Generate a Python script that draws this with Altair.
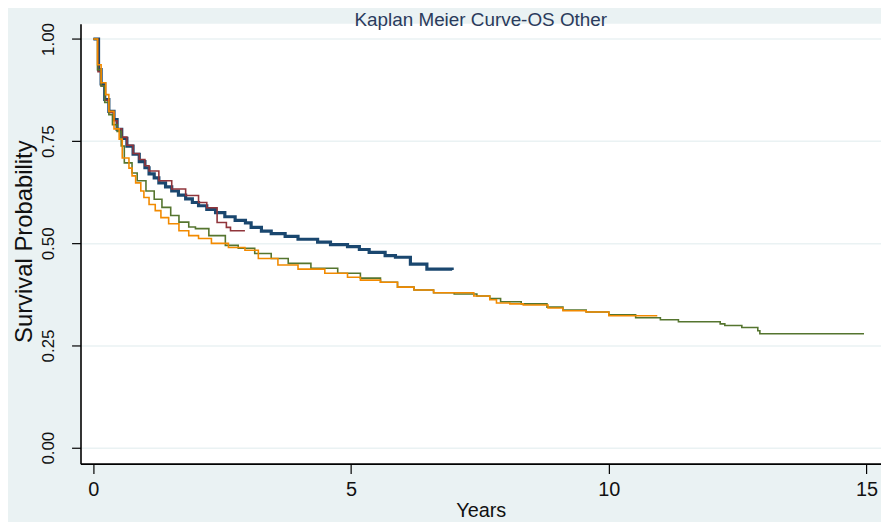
import altair as alt
import pandas as pd

# ---- data (years, survival probability) ----
groups = ["Group 1", "Group 2", "Group 3", "Group 4"]
colors = ["#1a476f", "#90353b", "#55752f", "#f28a00"]
widths = [3.2, 1.6, 1.6, 1.6]

g1_t = [0, 0.10, 0.15, 0.22, 0.30, 0.40, 0.46, 0.55, 0.65, 0.77,
        0.89, 1.0, 1.08, 1.18, 1.27, 1.4, 1.52, 1.65, 1.79, 1.92,
        2.04, 2.2, 2.37, 2.55, 2.75, 2.95, 3.06, 3.26, 3.45, 3.72,
        3.97, 4.35, 4.6, 4.93, 5.16, 5.35, 5.66, 5.86, 6.15, 6.47, 6.96]
g1_s = [1.0, 0.925, 0.89, 0.852, 0.823, 0.803, 0.779, 0.757, 0.738, 0.718,
        0.70, 0.685, 0.67, 0.66, 0.648, 0.638, 0.628, 0.618, 0.609, 0.60,
        0.592, 0.583, 0.575, 0.565, 0.556, 0.55, 0.539, 0.53, 0.524, 0.517,
        0.51, 0.503, 0.497, 0.492, 0.485, 0.478, 0.47, 0.466, 0.449, 0.437, 0.435]

g2_t = [0, 0.09, 0.15, 0.22, 0.30, 0.40, 0.46, 0.55, 0.65, 0.77, 0.89,
        1.0, 1.08, 1.27, 1.52, 1.79, 2.04, 2.2, 2.4, 2.58, 2.66, 2.94]
g2_s = [1.0, 0.92, 0.885, 0.85, 0.82, 0.80, 0.78, 0.76, 0.74, 0.72, 0.705,
        0.69, 0.677, 0.653, 0.633, 0.617, 0.60, 0.587, 0.551, 0.539, 0.531, 0.531]

g3_t = [0, 0.08, 0.15, 0.22, 0.30, 0.37, 0.46, 0.54, 0.60, 0.75,
        0.85, 1.02, 1.18, 1.33, 1.5, 1.66, 1.85, 1.98, 2.24, 2.56,
        2.81, 3.13, 3.45, 3.78, 4.22, 4.74, 5.18, 5.57, 5.9, 6.22,
        6.6, 7.0, 7.44, 7.69, 7.9, 8.3, 8.8, 9.11, 9.56, 10.0,
        10.52, 11.0, 11.35, 12.16, 12.25, 12.58, 12.89, 12.93, 14.95]
g3_s = [1.0, 0.925, 0.885, 0.845, 0.815, 0.79, 0.774, 0.738, 0.697, 0.672,
        0.653, 0.628, 0.608, 0.588, 0.568, 0.552, 0.54, 0.536, 0.519, 0.495,
        0.488, 0.475, 0.463, 0.451, 0.439, 0.427, 0.415, 0.405, 0.393, 0.386,
        0.379, 0.376, 0.371, 0.365, 0.357, 0.352, 0.344, 0.337, 0.332, 0.325,
        0.318, 0.313, 0.308, 0.303, 0.299, 0.294, 0.286, 0.279, 0.279]

g4_t = [0, 0.08, 0.15, 0.24, 0.30, 0.40, 0.50, 0.56, 0.69, 0.75,
        0.82, 0.92, 0.98, 1.08, 1.2, 1.31, 1.46, 1.66, 1.85, 2.04,
        2.29, 2.62, 2.94, 3.2, 3.58, 3.97, 4.49, 4.93, 5.18, 5.57,
        5.9, 6.22, 6.6, 7.38, 7.69, 7.82, 8.08, 8.34, 8.82, 9.11,
        9.56, 10.0, 10.94]
g4_s = [1.0, 0.937, 0.893, 0.864, 0.823, 0.78, 0.755, 0.709, 0.684, 0.665,
        0.648, 0.628, 0.612, 0.595, 0.58, 0.563, 0.548, 0.531, 0.519, 0.512,
        0.50, 0.49, 0.483, 0.463, 0.447, 0.437, 0.427, 0.417, 0.41, 0.405,
        0.393, 0.386, 0.379, 0.371, 0.362, 0.354, 0.352, 0.349, 0.342, 0.335,
        0.332, 0.323, 0.323]

x_ticks = [0, 5, 10, 15]
y_ticks = [0, 0.25, 0.5, 0.75, 1.0]

series = [(g1_t, g1_s), (g2_t, g2_s), (g3_t, g3_s), (g4_t, g4_s)]

FONT = "Liberation Sans"
BG = "#eaf2f3"

x_enc = alt.X(
    "t:Q",
    scale=alt.Scale(domain=[-0.25, 15.28], nice=False, zero=False),
    axis=alt.Axis(
        values=x_ticks, title="Years", format="d", grid=False,
        domainColor="#000000", domainWidth=1.6, tickColor="#000000",
        tickWidth=1.2, tickSize=10, labelPadding=6, labelFontSize=20,
        labelFont=FONT, labelColor="#111111", titleFont=FONT,
        titleFontSize=20, titleFontWeight="normal", titleColor="#111111",
        titlePadding=1,
    ),
)
y_enc = alt.Y(
    "s:Q",
    scale=alt.Scale(domain=[-0.039, 1.0375], nice=False, zero=False),
    axis=alt.Axis(
        values=y_ticks, format=".2f", title="Survival Probability",
        grid=True, gridColor=BG, gridWidth=1.5,
        domainColor="#000000", domainWidth=1.6, tickColor="#000000",
        tickWidth=1.2, tickSize=9, labelAngle=-90, labelAlign="center",
        labelBaseline="alphabetic", labelPadding=18, labelFontSize=17,
        labelFont=FONT, labelColor="#111111", titleFont=FONT,
        titleFontSize=24, titleFontWeight="normal", titleColor="#111111",
        titleAngle=-90, titleAlign="center", titleBaseline="alphabetic",
        titleX=-49, titleY=219,
    ),
)

layers = []
for name, (ts, ss), col, w in zip(groups, series, colors, widths):
    df = pd.DataFrame({"t": ts, "s": ss, "group": name})
    layers.append(
        alt.Chart(df)
        .mark_line(interpolate="step-after", color=col, strokeWidth=w)
        .encode(x=x_enc, y=y_enc)
    )

chart = (
    alt.layer(*layers)
    .properties(
        width=806,
        height=443,
        title=alt.TitleParams(
            "Kaplan Meier Curve-OS Other", fontSize=19, font=FONT,
            fontWeight="normal", color="#2b3b5c", anchor="middle",
            offset=0, dy=7,
        ),
        autosize=alt.AutoSizeParams(type="none"),
        padding={"left": 73, "top": 14, "right": 0, "bottom": 60},
        background=BG,
    )
    .configure_view(fill="white", stroke=None)
)

chart.save("out.html", embed_options={"renderer": "svg", "actions": False})
